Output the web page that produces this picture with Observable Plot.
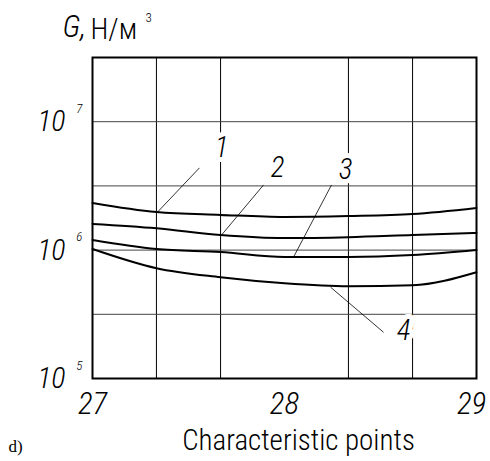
<!DOCTYPE html>
<html>
<head>
<meta charset="utf-8">
<script src="https://cdn.jsdelivr.net/npm/d3@7"></script>
<script src="https://cdn.jsdelivr.net/npm/@observablehq/plot@0.6"></script>
<style>
  html, body { margin: 0; padding: 0; background: white; }
  svg { display: block; }
</style>
</head>
<body>
<div id="chart"></div>
<script>
// Characteristic points (x) and series values G, N/m^3 (log scale)
const xs = [27, 27.333, 27.667, 28, 28.333, 28.667, 29];
const curve1 = [2.33e6, 1.98e6, 1.88e6, 1.81e6, 1.84e6, 1.91e6, 2.13e6];
const curve2 = [1.60e6, 1.48e6, 1.31e6, 1.24e6, 1.26e6, 1.31e6, 1.36e6];
const curve3 = [1.20e6, 1.02e6, 9.65e5, 8.82e5, 8.82e5, 9.14e5, 1.00e6];
const curve4 = [1.02e6, 7.23e5, 6.15e5, 5.52e5, 5.23e5, 5.33e5, 6.73e5];
const seriesNames = ["1", "2", "3", "4"];

const xTicks = [27, 28, 29];
const yTicks = [1e5, 1e6, 1e7];
const xGrid = [27.333, 27.667, 28.333, 28.667];
const yGrid = [10 ** 5.5, 1e6, 10 ** 6.5, 1e7];

// Curve number labels and their leader lines (data coordinates)
const labelX = [27.672, 27.964, 28.318, 28.620];
const labelY = [6.27e6, 4.37e6, 4.22e6, 2.37e5];
const leaderX1 = [27.557, 27.891, 28.245, 28.516];
const leaderY1 = [4.37e6, 3.22e6, 3.22e6, 2.29e5];
const leaderX2 = [27.339, 27.672, 28.047, 28.240];
const leaderY2 = [1.98e6, 1.31e6, 8.82e5, 5.14e5];

const titleG = "G,";
const titleUnit = "H/м";
const titleSup = "3";
const xLabel = "Characteristic points";
const panelTag = "d)";

const allCurves = [curve1, curve2, curve3, curve4];
const data = allCurves.flatMap((vals, i) => vals.map((v, j) => ({x: xs[j], y: v, series: seriesNames[i]})));
const labels = seriesNames.map((s, i) => ({text: s, x: labelX[i], y: labelY[i]}));
const leaders = seriesNames.map((s, i) => ({x1: leaderX1[i], y1: leaderY1[i], x2: leaderX2[i], y2: leaderY2[i]}));

const techFont = '"Roboto Condensed", "Liberation Sans Narrow", "DejaVu Sans Condensed", Roboto, sans-serif';

const chart = Plot.plot({
  width: 490,
  height: 461,
  marginLeft: 92,
  marginRight: 14,
  marginTop: 57,
  marginBottom: 83,
  x: {domain: [27, 29]},
  y: {type: "log", domain: [1e5, 10 ** 7.5]},
  style: {background: "white", fontFamily: techFont, color: "black", overflow: "visible"},
  marks: [
    Plot.gridX(xGrid, {stroke: "black", strokeOpacity: 1, strokeWidth: 1}),
    Plot.gridY(yGrid, {stroke: "#444", strokeOpacity: 1, strokeWidth: 1}),
    Plot.frame({stroke: "black", strokeWidth: 2}),
    Plot.lineY(data, {x: "x", y: "y", z: "series", curve: "monotone-x", stroke: "black", strokeWidth: 2}),
    Plot.link(leaders, {x1: "x1", y1: "y1", x2: "x2", y2: "y2", stroke: "black", strokeWidth: 0.8}),
    Plot.text(labels, {x: "x", y: "y", text: "text", fill: "black", stroke: "white", strokeWidth: 10,
      fontSize: 29, fontStyle: "italic", fontWeight: 300}),
    Plot.axisX(xTicks.slice(0, 2), {tickSize: 0, tickPadding: 13, tickFormat: d => String(d), fontSize: 31, fontStyle: "italic", fontWeight: 300, label: null}),
    Plot.axisX(xTicks.slice(2), {tickSize: 0, tickPadding: 13, tickFormat: d => String(d), fontSize: 31, fontStyle: "italic", fontWeight: 300, dx: -5, label: null}),
    Plot.axisY(yTicks, {tickSize: 0, tickPadding: 27, tickFormat: () => "10", fontSize: 30, fontStyle: "italic", fontWeight: 300, label: null}),
    Plot.axisY(yTicks, {tickSize: 0, tickPadding: 10, tickFormat: d => String(Math.round(Math.log10(d))), fontSize: 13, fontStyle: "italic", fontWeight: 300, dy: -13, label: null}),
    Plot.text([titleG], {frameAnchor: "top-left", textAnchor: "start", lineAnchor: "middle", dx: -30, dy: -30, fontSize: 31, fontStyle: "italic", fontWeight: 300}),
    Plot.text([titleUnit], {frameAnchor: "top-left", textAnchor: "start", lineAnchor: "middle", dx: -2, dy: -28, fontSize: 29, fontWeight: 300, style: "letter-spacing: 2px"}),
    Plot.text([titleSup], {frameAnchor: "top-left", textAnchor: "start", lineAnchor: "middle", dx: 53, dy: -40, fontSize: 13, fontWeight: 300}),
    Plot.text([xLabel], {frameAnchor: "bottom", lineAnchor: "middle", dx: 14, dy: 62, fontSize: 29, fontWeight: 300, style: "letter-spacing: 0.6px"}),
    Plot.text([panelTag], {frameAnchor: "bottom-left", textAnchor: "start", lineAnchor: "middle", dx: -84, dy: 68, fontSize: 17, fontFamily: '"Liberation Serif", serif'})
  ]
});
document.getElementById("chart").append(chart);
</script>
</body>
</html>
